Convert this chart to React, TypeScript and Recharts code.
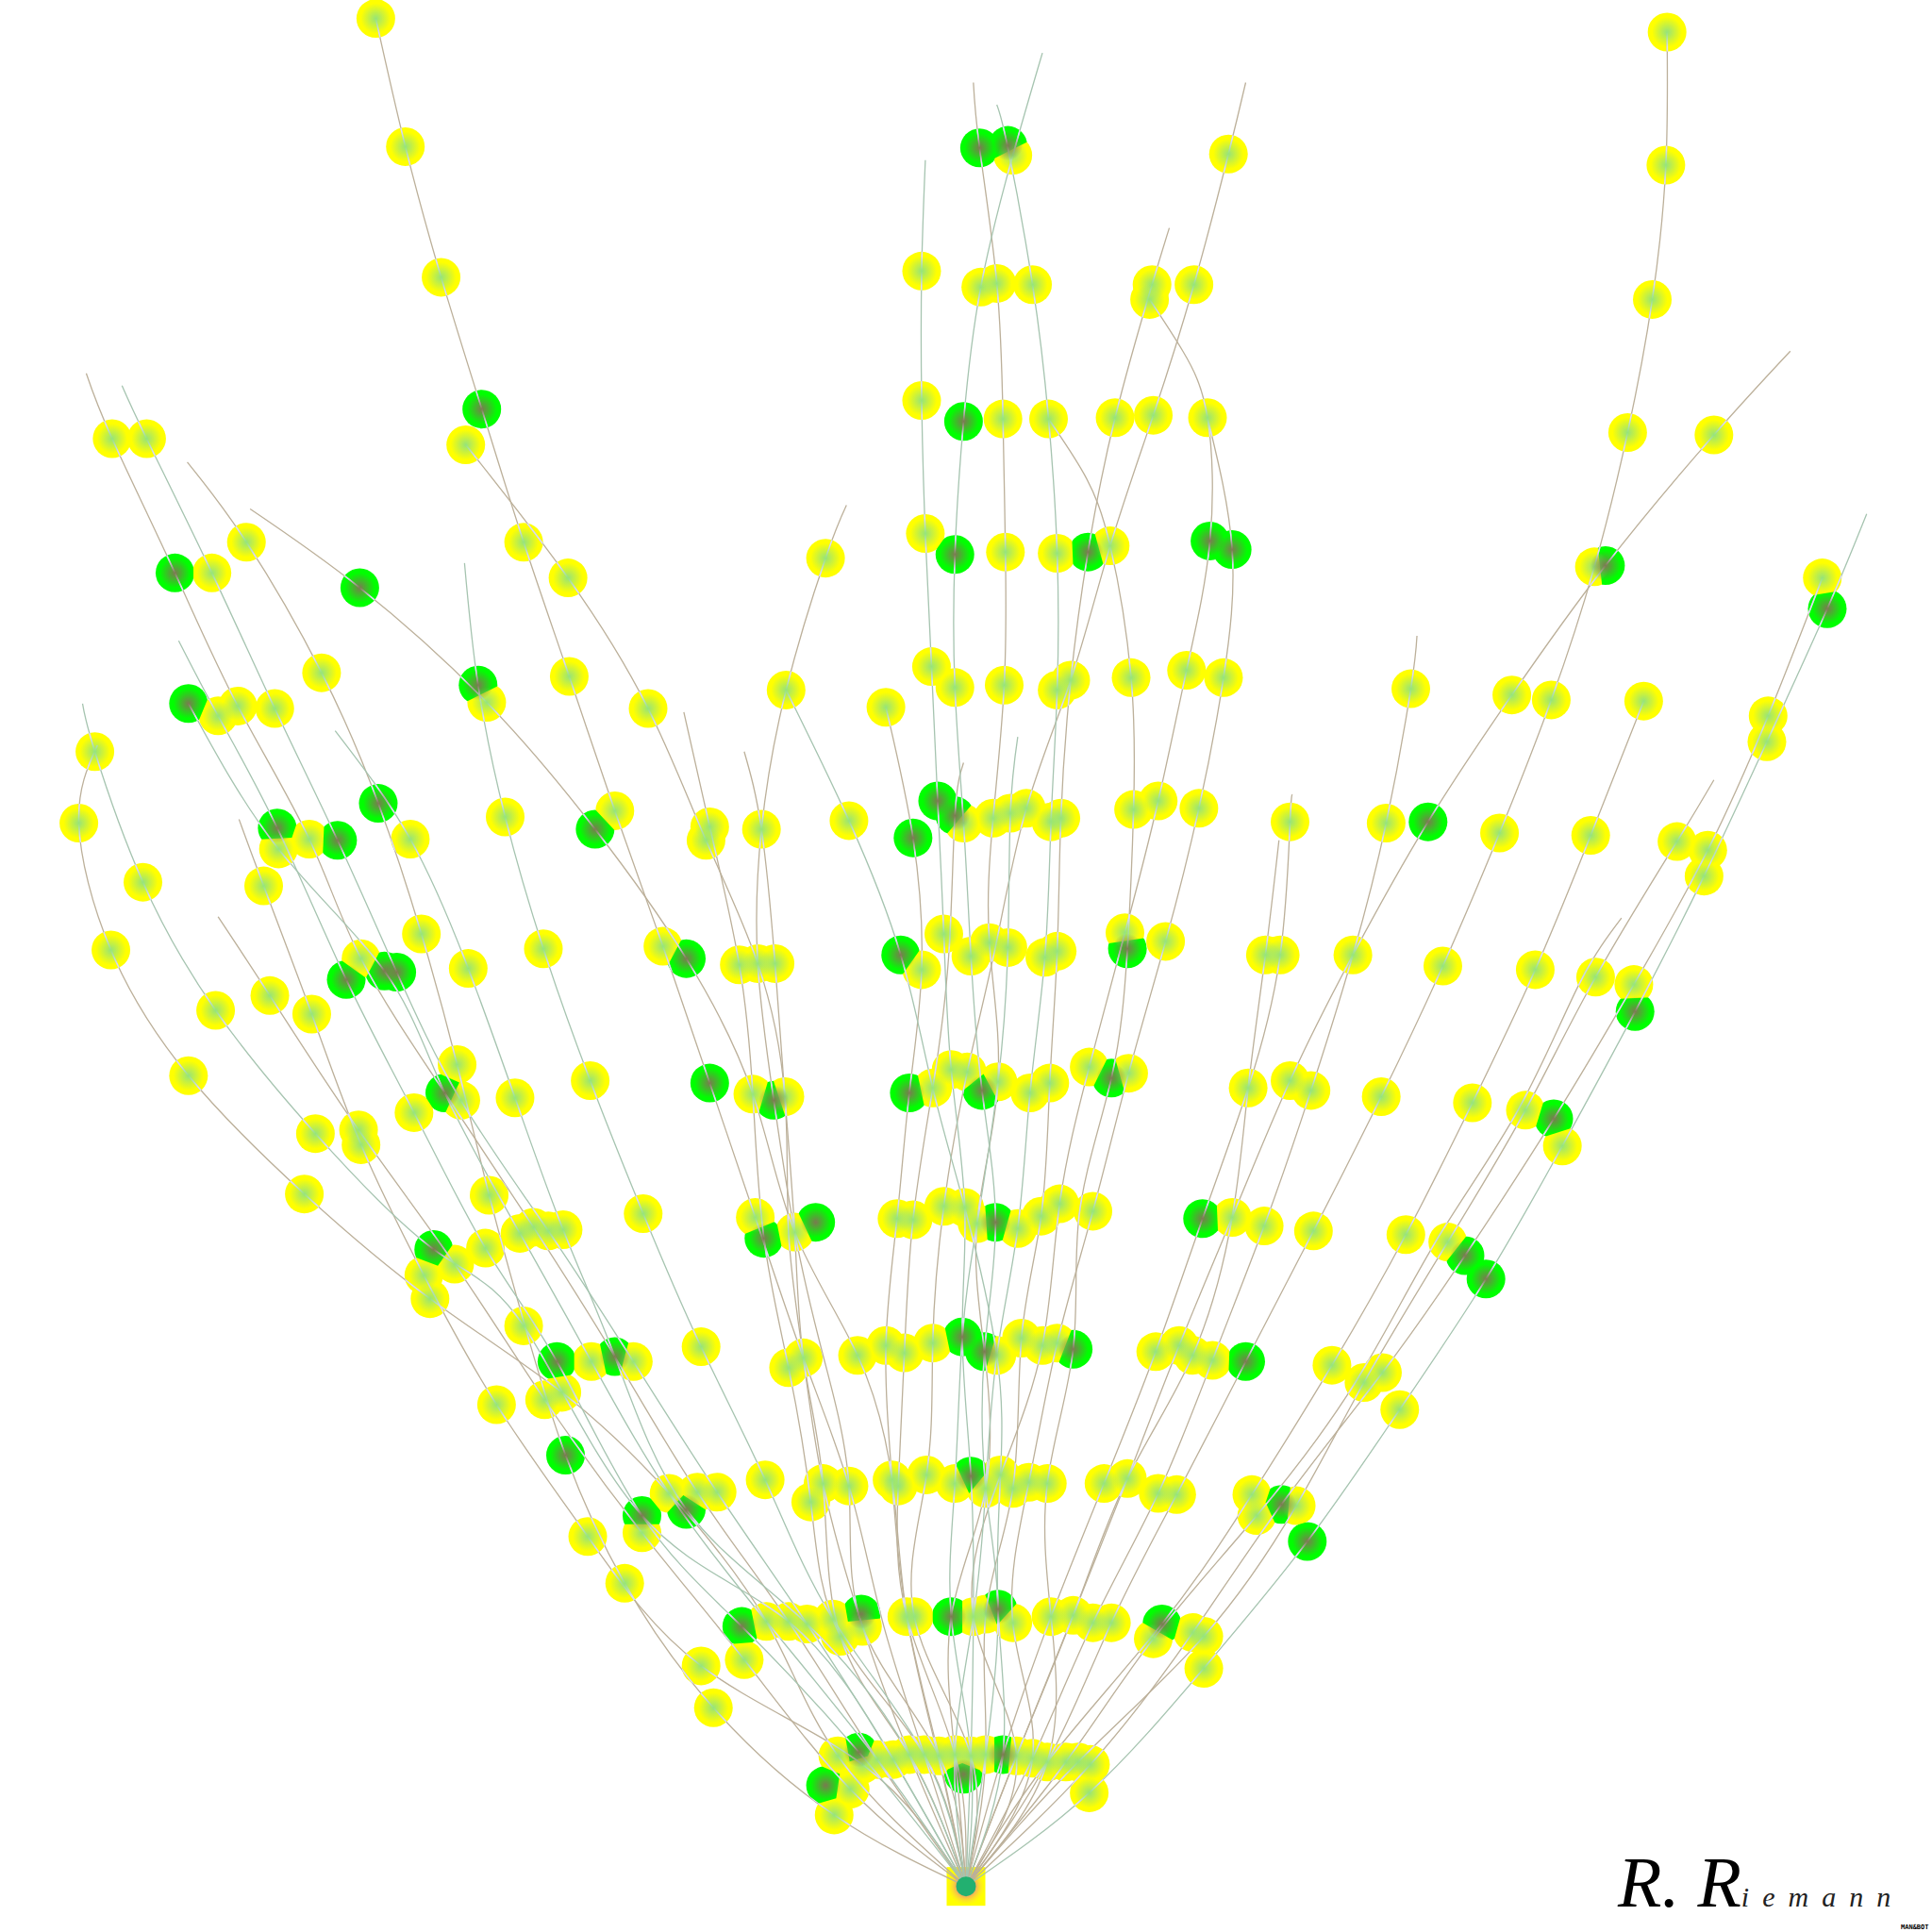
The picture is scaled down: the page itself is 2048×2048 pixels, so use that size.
import React from "react";
import { ComposedChart, Line, Scatter, XAxis, YAxis } from "recharts";

type P = [number, number];
const R: P = [784, 1531];

const greenNodes: P[] = [
  [795,120],[818,118],[391,332],[782,342],[142,465],[292,477],[775,450],[883,448],[982,439],[1000,446],[1303,459],[1483,494],
  [153,571],[388,556],[225,672],[274,682],[307,652],[483,673],[761,650],[741,680],[775,662],[1159,667],
  [281,795],[312,788],[322,789],[557,778],[731,775],[915,770],[1327,821],
  [361,887],[576,879],[628,893],[738,887],[797,885],[902,875],[1261,908],
  [352,1014],[620,1005],[662,992],[808,992],[976,989],[1189,1019],[1206,1038],
  [452,1105],[499,1101],[781,1085],[799,1097],[871,1095],[1011,1105],
  [459,1181],[521,1230],[557,1225],[788,1198],[1040,1221],[1061,1251],
  [602,1320],[699,1310],[772,1312],[810,1306],[943,1318],
  [670,1449],[697,1422],[814,1424],[782,1440],
];

const yellowNodes: P[] = [
  [305,15],[1353,26],[329,119],[822,126],[997,125],[1352,134],
  [358,225],[748,220],[796,233],[809,230],[838,231],[935,231],[933,243],[969,231],[1341,243],
  [91,356],[119,356],[378,361],[748,325],[814,340],[851,340],[905,339],[936,337],[980,339],[1321,351],[1391,353],
  [172,465],[200,440],[425,440],[461,469],[670,453],[751,433],[816,448],[858,449],[901,443],[1294,460],[1479,469],
  [177,581],[193,573],[223,575],[261,546],[395,570],[462,549],[526,575],[638,560],[719,574],[756,541],[775,558],[815,556],[858,560],[869,552],[918,550],[963,544],[993,550],[1145,559],[1227,564],[1259,568],[1334,569],[1435,581],[1434,602],
  [77,610],[64,668],[226,689],[251,681],[333,681],[410,663],[499,658],[573,682],[576,671],[618,673],[689,666],[782,668],[806,664],[820,660],[833,656],[853,667],[861,664],[920,657],[940,650],[973,656],[1047,667],[1125,668],[1217,676],[1291,678],[1361,683],[1386,690],[1383,711],
  [116,716],[90,771],[214,719],[175,820],[219,808],[253,823],[293,778],[342,758],[380,786],[441,770],[538,768],[600,783],[615,782],[629,782],[748,787],[766,758],[788,776],[803,765],[818,769],[848,777],[858,772],[913,757],[946,764],[1027,775],[1039,775],[1098,775],[1171,784],[1246,787],[1295,793],[1326,799],
  [153,873],[256,920],[291,917],[293,929],[336,903],[371,864],[374,893],[418,891],[479,877],[611,888],[637,890],[757,883],[772,868],[785,870],[810,878],[836,887],[852,879],[884,866],[916,871],[1013,883],[1047,877],[1064,885],[1121,890],[1195,895],[1238,901],[1268,930],
  [247,969],[397,970],[394,1013],[369,1026],[344,1035],[349,1054],[422,1001],[433,996],[445,999],[457,998],[522,985],[613,988],[645,1000],[728,989],[741,990],[766,979],[783,980],[793,993],[826,997],[845,987],[860,977],[887,983],[1000,988],[1026,995],[1066,999],[1141,1002],[1175,1008],
  [403,1140],[425,1076],[442,1136],[456,1130],[480,1105],[514,1105],[569,1093],[640,1110],[652,1102],[696,1100],[719,1092],[734,1098],[757,1090],[809,1100],[829,1086],[846,1092],[858,1090],[938,1097],[957,1092],[968,1100],[984,1104],[1081,1108],[1107,1122],[1122,1114],[1136,1144],
  [477,1247],[507,1285],[521,1244],[543,1212],[566,1211],[582,1211],[621,1201],[658,1219],[668,1204],[689,1206],[724,1201],[729,1206],[752,1197],[775,1204],[800,1208],[812,1197],[822,1208],[835,1203],[850,1204],[896,1204],[915,1200],[940,1212],[955,1213],[1016,1213],[1020,1230],[1052,1222],
  [569,1352],[579,1386],[604,1347],[622,1316],[640,1316],[655,1318],[676,1314],[682,1328],[700,1320],[736,1312],[742,1312],[790,1312],[800,1310],[822,1317],[853,1312],[871,1311],[887,1317],[902,1317],[936,1330],[968,1325],[977,1328],[977,1354],
  [680,1425],[690,1452],[677,1473],[700,1432],[712,1428],[725,1428],[738,1424],[750,1424],[762,1425],[775,1424],[788,1425],[800,1424],[825,1425],[838,1427],[850,1430],[865,1430],[875,1430],[885,1432],[884,1455],
];

const brownChains: P[][] = [
  [[70,303],[91,356],[142,465],[193,573],[251,681],[293,778],[361,887],[433,996],[499,1101],[566,1211],[640,1316],[712,1428],R],
  [[152,375],[200,440],[261,546],[307,652],[342,758],[371,864],[397,970],[426,1076],[459,1181],[507,1285],[579,1386],[677,1473],R],
  [[203,413],[292,477],[395,570],[483,673],[557,778],[611,888],[645,1000],[696,1100],[724,1201],[736,1312],[762,1428],R],
  [[305,15],[329,119],[358,225],[391,332],[425,440],[462,549],[499,658],[538,768],[576,879],[613,988],[652,1102],[689,1206],[716,1315],[750,1424],R],
  [[378,361],[461,469],[526,575],[573,682],[615,782],[637,890],[640,1000],[652,1102],[668,1204],[700,1320],[738,1424],R],
  [[79,605],[64,668],[90,771],[153,873],[247,969],[349,1054],[456,1130],[543,1212],[622,1316],[680,1425],R],
  [[177,744],[219,808],[291,917],[369,1026],[442,1136],[521,1244],[604,1347],[690,1452],R],
  [[194,665],[214,719],[253,823],[293,929],[344,1035],[403,1140],[477,1247],[569,1352],[700,1432],R],
  [[790,67],[795,120],[809,230],[814,340],[816,448],[815,556],[806,664],[803,765],[810,878],[793,993],[799,1097],[800,1208],[772,1312],[775,1424],R],
  [[1011,67],[997,125],[969,231],[936,337],[901,443],[869,552],[833,656],[808,768],[785,870],[766,979],[757,1090],[752,1197],[742,1312],[788,1425],R],
  [[949,185],[935,231],[905,339],[883,448],[869,552],[861,664],[858,772],[852,879],[845,987],[829,1086],[822,1208],[800,1310],[800,1424],R],
  [[933,243],[960,285],[980,339],[982,439],[963,544],[940,650],[913,757],[884,866],[860,977],[846,1092],[812,1197],[790,1312],[825,1425],R],
  [[980,339],[1000,446],[993,550],[973,656],[946,764],[916,871],[887,983],[858,1090],[835,1203],[822,1317],[838,1427],R],
  [[851,340],[880,385],[901,443],[918,550],[920,657],[915,770],[902,875],[876,985],[871,1095],[850,1204],[853,1312],[850,1430],R],
  [[782,619],[775,662],[770,775],[757,883],[741,990],[734,1098],[729,1206],[736,1312],[775,1424],R],
  [[719,574],[741,680],[748,787],[738,887],[728,989],[719,1092],[724,1201],[736,1312],[762,1425],R],
  [[555,578],[576,671],[600,783],[611,888],[620,1005],[640,1110],[658,1219],[682,1328],[750,1424],R],
  [[687,410],[670,453],[638,560],[618,673],[615,782],[628,893],[645,1000],[668,1100],[689,1206],[700,1320],[762,1425],R],
  [[604,610],[618,673],[629,782],[637,890],[645,1000],[652,1102],[668,1204],[682,1328],[738,1424],R],
  [[1353,26],[1352,134],[1341,243],[1321,351],[1294,460],[1259,568],[1217,676],[1171,784],[1121,890],[1066,999],[1011,1105],[955,1213],[902,1317],[850,1430],R],
  [[1453,285],[1391,353],[1303,459],[1227,564],[1159,667],[1098,775],[1047,877],[1000,988],[957,1092],[915,1200],[871,1311],[825,1425],R],
  [[1479,469],[1435,581],[1386,690],[1326,799],[1261,908],[1189,1019],[1122,1114],[1040,1221],[968,1325],[885,1432],R],
  [[1391,633],[1361,683],[1295,793],[1238,901],[1175,1008],[1107,1122],[1052,1222],[977,1328],[875,1430],R],
  [[1316,745],[1281,800],[1232,901],[1165,1008],[1100,1122],[1020,1230],[936,1330],[865,1430],R],
  [[1334,569],[1291,678],[1246,787],[1195,895],[1141,1002],[1081,1108],[1016,1213],[943,1318],[850,1430],R],
  [[1150,516],[1145,559],[1125,668],[1098,775],[1064,885],[1026,995],[984,1104],[940,1212],[887,1317],[838,1427],R],
  [[1049,645],[1047,667],[1039,775],[1013,883],[976,989],[938,1097],[896,1204],[853,1312],[814,1424],R],
  [[1038,682],[1027,775],[1013,883],[1000,988],[968,1100],[915,1200],[871,1311],[825,1425],R],
];

const greenChains: P[][] = [
  [[99,313],[119,356],[172,465],[223,575],[274,682],[322,789],[374,893],[445,999],[514,1105],[582,1211],[655,1318],[725,1428],R],
  [[145,520],[177,581],[225,672],[281,795],[336,903],[394,1013],[452,1105],[521,1230],[602,1320],[697,1422],R],
  [[153,571],[226,689],[312,788],[361,887],[422,1001],[480,1105],[543,1212],[622,1316],[712,1428],R],
  [[67,571],[77,610],[116,716],[175,820],[256,920],[352,1014],[425,1076],[521,1230],[640,1316],[725,1428],R],
  [[272,593],[333,681],[380,786],[418,891],[457,998],[499,1101],[557,1225],[655,1318],[738,1424],R],
  [[377,457],[388,556],[410,663],[441,770],[479,877],[522,985],[569,1093],[621,1201],[676,1314],[750,1424],R],
  [[751,130],[748,220],[748,325],[751,433],[756,541],[761,650],[766,758],[772,868],[783,980],[781,1085],[788,1198],[790,1312],[788,1425],R],
  [[846,43],[822,126],[796,233],[782,342],[775,450],[775,558],[782,668],[788,776],[797,885],[808,992],[799,1097],[800,1208],[810,1306],[800,1424],R],
  [[809,85],[818,120],[838,231],[851,340],[858,449],[858,560],[853,667],[848,777],[836,887],[826,997],[809,1100],[800,1208],[790,1312],[775,1424],R],
  [[826,598],[820,660],[818,769],[810,878],[793,993],[781,1085],[775,1204],[772,1312],[788,1425],R],
  [[638,560],[689,666],[731,775],[757,883],[783,980],[809,1100],[812,1197],[810,1306],[814,1424],R],
  [[1515,417],[1483,494],[1434,602],[1383,711],[1327,821],[1268,930],[1206,1038],[1136,1144],[1061,1251],[977,1354],[884,1455],R],
];

const SCALE = 2048 / 1568;
const RADIUS = 20.5;
const toRows = (list: P[]) => list.map(([x, y]) => ({ x, y }));
const rootNode = toRows([R]);
const allChains = [...brownChains, ...greenChains];

// Nearest-node cell of a green disc: where a yellow neighbour is closer, the yellow shows.
function cellPolygon(cx: number, cy: number): string {
  const e = RADIUS + 1;
  let poly: P[] = [[cx - e, cy - e], [cx + e, cy - e], [cx + e, cy + e], [cx - e, cy + e]];
  for (const [qx, qy] of yellowNodes) {
    const ox = qx * SCALE, oy = qy * SCALE;
    const dx = ox - cx, dy = oy - cy;
    if (dx * dx + dy * dy > 4 * e * e) continue;
    const mx = (ox + cx) / 2, my = (oy + cy) / 2;
    const side = (p: P) => (p[0] - mx) * dx + (p[1] - my) * dy;
    const out: P[] = [];
    poly.forEach((a, i) => {
      const b = poly[(i + 1) % poly.length];
      const sa = side(a), sb = side(b);
      if (sa <= 0) out.push(a);
      if (sa * sb < 0) {
        const t = sa / (sa - sb);
        out.push([a[0] + (b[0] - a[0]) * t, a[1] + (b[1] - a[1]) * t]);
      }
    });
    poly = out;
  }
  return poly.map((p) => p.join(",")).join(" ");
}

const yellowDisc = (p: any) => <circle cx={p.cx} cy={p.cy} r={RADIUS} fill="#ffff00" />;
const greenDisc = (p: any) => {
  const id = `cell-${Math.round(p.cx)}-${Math.round(p.cy)}`;
  return (
    <g>
      <clipPath id={id}><polygon points={cellPolygon(p.cx, p.cy)} /></clipPath>
      <circle cx={p.cx} cy={p.cy} r={RADIUS} fill="#00ff00" clipPath={`url(#${id})`} />
    </g>
  );
};
const glow = (id: string, r: number) => (p: any) => <circle cx={p.cx} cy={p.cy} r={r} fill={`url(#${id})`} />;
const rootBase = (p: any) => (
  <g>
    <rect x={p.cx - RADIUS} y={p.cy - RADIUS} width={41} height={41} fill="#ffff00" />
    <circle cx={p.cx} cy={p.cy} r={20} fill="url(#rootGlow)" />
  </g>
);
const rootTop = (p: any) => <circle cx={p.cx} cy={p.cy} r={10.5} fill="#22b070" />;

export default function App() {
  return (
    <div style={{ position: "absolute", left: 0, top: 0, width: 2048, height: 2048, background: "#fff" }}>
      <style>{`.halo { clip-path: url(#nodeClip); }`}</style>
      <ComposedChart width={2048} height={2048} margin={{ top: 0, right: 0, bottom: 0, left: 0 }}>
        <defs>
          <radialGradient id="yGlow">
            <stop offset="0%" stopColor="#96e478" stopOpacity={1} />
            <stop offset="100%" stopColor="#96e478" stopOpacity={0} />
          </radialGradient>
          <radialGradient id="gGlow">
            <stop offset="0%" stopColor="#7a7a50" stopOpacity={1} />
            <stop offset="100%" stopColor="#7a7a50" stopOpacity={0} />
          </radialGradient>
          <radialGradient id="rootGlow">
            <stop offset="50%" stopColor="#f0a860" stopOpacity={1} />
            <stop offset="100%" stopColor="#ffe040" stopOpacity={0} />
          </radialGradient>
          <clipPath id="nodeClip">
            {[...yellowNodes, ...greenNodes].map(([x, y], i) => (
              <circle key={i} cx={x * SCALE} cy={y * SCALE} r={RADIUS} />
            ))}
          </clipPath>
        </defs>
        <XAxis type="number" dataKey="x" domain={[0, 1568]} hide allowDataOverflow />
        <YAxis type="number" dataKey="y" domain={[0, 1568]} reversed hide allowDataOverflow />
        <Scatter zIndex={100} data={toRows(yellowNodes)} shape={yellowDisc} isAnimationActive={false} />
        <Scatter zIndex={110} data={toRows(greenNodes)} shape={greenDisc} isAnimationActive={false} />
        <Scatter zIndex={120} data={rootNode} shape={rootBase} isAnimationActive={false} />
        {brownChains.map((c, i) => (
          <Line zIndex={200} key={"b" + i} data={toRows(c)} dataKey="y" type="natural" stroke="#bcb09a" strokeWidth={1.3} dot={false} activeDot={false} isAnimationActive={false} />
        ))}
        {greenChains.map((c, i) => (
          <Line zIndex={200} key={"g" + i} data={toRows(c)} dataKey="y" type="natural" stroke="#a6c4b0" strokeWidth={1.3} dot={false} activeDot={false} isAnimationActive={false} />
        ))}
        {allChains.map((c, i) => (
          <Line zIndex={210} key={"h" + i} className="halo" data={toRows(c)} dataKey="y" type="natural" stroke="#dcdcf2" strokeWidth={1.6} dot={false} activeDot={false} isAnimationActive={false} />
        ))}
        <Scatter zIndex={300} data={toRows(yellowNodes)} shape={glow("yGlow", 16)} isAnimationActive={false} />
        <Scatter zIndex={310} data={toRows(greenNodes)} shape={glow("gGlow", 16)} isAnimationActive={false} />
        <Scatter zIndex={320} data={rootNode} shape={rootTop} isAnimationActive={false} />
        <text x={1715} y={2021} fontFamily="Liberation Serif" fontStyle="italic" fill="#000">
          <tspan fontSize={76}>R. R</tspan>
          <tspan fontSize={30} letterSpacing={14} fill="#222">iemann</tspan>
        </text>
        <text x={2015} y={2045} fontFamily="DejaVu Sans Mono" fontSize={7} fontWeight={700} fill="#000">MAN&amp;BOT</text>
      </ComposedChart>
    </div>
  );
}
